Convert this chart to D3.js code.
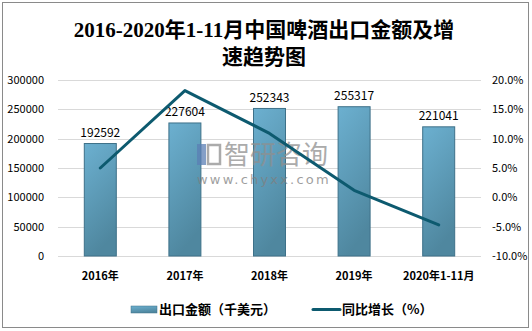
<!DOCTYPE html>
<html><head><meta charset="utf-8">
<script src="https://cdn.jsdelivr.net/npm/d3@7"></script>
<style>body{margin:0;background:#fff}</style>
</head><body>
<svg id="c" width="532" height="331"></svg>
<script>
const categories = ["2016年","2017年","2018年","2019年","2020年1-11月"];
const exportValues = [192592,227604,252343,255317,221041];
const growthRates = [5.0,18.2,10.9,1.2,-4.7];
const leftTicks = [0,50000,100000,150000,200000,250000,300000];
const rightTicks = [-10,-5,0,5,10,15,20];

const svg = d3.select("#c");
const x = d3.scaleBand().domain(categories).range([58,481]).paddingInner(0.61).paddingOuter(0.305);
const y = d3.scaleLinear().domain([0,300000]).range([256,80]);
const y2 = d3.scaleLinear().domain([-10,20]).range([256,80]);

const defs = svg.append("defs");
const g = defs.append("linearGradient").attr("id","bg").attr("x1",0).attr("y1",0).attr("x2",0.3).attr("y2",1);
g.append("stop").attr("offset","0%").attr("stop-color","#6cb0d0");
g.append("stop").attr("offset","100%").attr("stop-color","#4f879f");

svg.append("rect").attr("x",2.5).attr("y",2.5).attr("width",526).attr("height",325).attr("fill","#fff").attr("stroke","#8a8a8a").attr("stroke-width",1);

// title
const title = svg.append("text").attr("text-anchor","middle").attr("font-family","'Liberation Serif','Noto Sans CJK SC',serif").attr("font-weight","bold").attr("font-size",21).attr("fill","#000");
title.append("tspan").attr("x",264).attr("y",37).text("2016-2020年1-11月中国啤酒出口金额及增");
title.append("tspan").attr("x",264).attr("y",64).text("速趋势图");

// grid
svg.append("g").selectAll("line").data(leftTicks).join("line")
  .attr("x1",58).attr("x2",481).attr("y1",d=>Math.round(y(d))+0.5).attr("y2",d=>Math.round(y(d))+0.5)
  .attr("stroke","#d9d9d9").attr("stroke-width",1);

// axes
const la = svg.append("g").attr("transform","translate(46,0)").call(d3.axisLeft(y).tickValues(leftTicks).tickSize(0).tickPadding(2).tickFormat(d3.format("d")));
la.select(".domain").remove();
la.selectAll("text").attr("font-family","'Noto Sans CJK SC',sans-serif").attr("font-size",11).attr("fill","#000");
const ra = svg.append("g").attr("transform","translate(490,0)").call(d3.axisRight(y2).tickValues(rightTicks).tickSize(0).tickPadding(2).tickFormat(d=>d.toFixed(1)+"%"));
ra.select(".domain").remove();
ra.selectAll("text").attr("font-family","'Noto Sans CJK SC',sans-serif").attr("font-size",11).attr("fill","#000");
const xa = svg.append("g").attr("transform","translate(0,272)").call(d3.axisBottom(x).tickSize(0).tickPadding(0));
xa.select(".domain").remove();
xa.selectAll("text").attr("font-family","'Noto Sans CJK SC',sans-serif").attr("font-size",11).attr("font-weight","bold").attr("fill","#000");

// bars
svg.append("g").selectAll("rect").data(exportValues).join("rect")
  .attr("x",(d,i)=>x(categories[i])+0.5).attr("y",d=>y(d)+0.5)
  .attr("width",x.bandwidth()-1).attr("height",d=>256-y(d)-0.5)
  .attr("fill","url(#bg)").attr("stroke","#3e7189").attr("stroke-width",1);

// bar labels
svg.append("g").selectAll("text").data(exportValues).join("text")
  .attr("x",(d,i)=>x(categories[i])+x.bandwidth()/2).attr("y",d=>y(d)-6)
  .attr("text-anchor","middle").attr("font-family","'Noto Sans CJK SC',sans-serif").attr("font-size",12).attr("fill","#000")
  .text(d=>d);

// watermark
const wm = svg.append("g").attr("opacity",0.75);
wm.append("rect").attr("x",197).attr("y",144).attr("width",9).attr("height",21).attr("fill","#5b7fb5");
wm.append("rect").attr("x",208).attr("y",145).attr("width",12).attr("height",19).attr("fill","none").attr("stroke","#8f8f8f").attr("stroke-width",2.5);
wm.append("text").attr("x",224).attr("y",164).attr("font-family","'Noto Sans CJK SC',sans-serif").attr("font-size",26).attr("fill","#8f8f8f").text("智研咨询");
wm.append("text").attr("x",197).attr("y",184).attr("font-family","'DejaVu Sans',sans-serif").attr("font-size",13).attr("letter-spacing",2.2).attr("fill","#7f7f7f").text("www.chyxx.com");

// line
const line = d3.line().x((d,i)=>x(categories[i])+x.bandwidth()/2).y(d=>y2(d));
svg.append("path").datum(growthRates).attr("d",line).attr("fill","none").attr("stroke","#0d5a6f").attr("stroke-width",3).attr("stroke-linejoin","round").attr("stroke-linecap","round");

// legend
const lg = svg.append("g");
lg.append("rect").attr("x",131).attr("y",306).attr("width",26).attr("height",7).attr("fill","url(#bg)").attr("stroke","#3e7189").attr("stroke-width",0.5);
lg.append("text").attr("x",159).attr("y",314).attr("font-family","'Noto Sans CJK SC',sans-serif").attr("font-size",13).attr("font-weight","bold").attr("fill","#000").text("出口金额（千美元）");
lg.append("line").attr("x1",313).attr("x2",340).attr("y1",309.5).attr("y2",309.5).attr("stroke","#0d5a6f").attr("stroke-width",3).attr("stroke-linecap","round");
lg.append("text").attr("x",342).attr("y",314).attr("font-family","'Noto Sans CJK SC',sans-serif").attr("font-size",13).attr("font-weight","bold").attr("fill","#000").text("同比增长（%）");
</script>
</body></html>
